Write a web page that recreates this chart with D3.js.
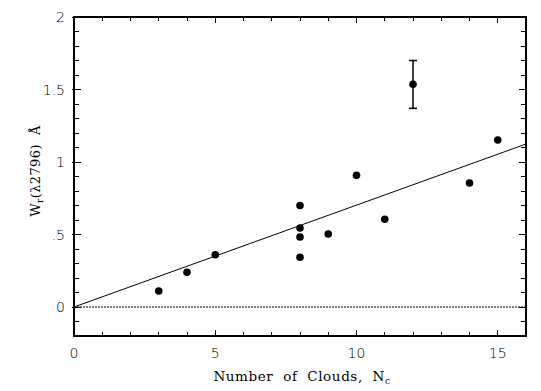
<!DOCTYPE html>
<html><head><meta charset="utf-8">
<script src="https://cdn.jsdelivr.net/npm/d3@7"></script>
<style>body{margin:0;background:#fff}svg{display:block}text{white-space:pre}</style>
</head><body>
<script>
const clouds = [3, 4, 5, 8, 8, 8, 8, 9, 10, 11, 12, 14, 15];
const ew = [0.11, 0.24, 0.36, 0.70, 0.545, 0.483, 0.343, 0.503, 0.908, 0.605, 1.536, 0.855, 1.152];
const errLow = [null, null, null, null, null, null, null, null, null, null, 1.37, null, null];
const errHigh = [null, null, null, null, null, null, null, null, null, null, 1.70, null, null];
const fitLine = [[0, 0], [16, 1.124]];
const zeroLine = [[0, 0], [16, 0]];
const xTicks = [0, 5, 10, 15];
const yTicks = [0, 0.5, 1, 1.5, 2];
const yTickLabels = ["0", ".5", "1", "1.5", "2"];

const W = 541, H = 391;
const L = 74, R = 526, T = 17, B = 336;
const svg = d3.select("body").append("svg").attr("width", W).attr("height", H);
const x = d3.scaleLinear().domain([0, 16]).range([L, R]);
const y = d3.scaleLinear().domain([-0.2, 2]).range([B, T]);

const g = svg.append("g").attr("stroke", "#000").attr("stroke-width", 1).attr("shape-rendering", "crispEdges");
g.append("rect").attr("x", L).attr("y", T).attr("width", R - L).attr("height", B - T).attr("fill", "none").attr("stroke-width", 1.5);

// x ticks
d3.range(0, 17, 1).forEach(v => {
  const major = v % 5 === 0;
  const len = major ? 6 : 4;
  g.append("line").attr("x1", x(v)).attr("x2", x(v)).attr("y1", B).attr("y2", B - len);
  g.append("line").attr("x1", x(v)).attr("x2", x(v)).attr("y1", T).attr("y2", T + len);
});
// y ticks
d3.range(-2, 21, 1).forEach(i => {
  const v = i / 10;
  const major = i % 5 === 0;
  const len = major ? 7 : 5;
  g.append("line").attr("x1", major ? L - 2 : L).attr("x2", L + len).attr("y1", y(v)).attr("y2", y(v));
  g.append("line").attr("x1", R).attr("x2", R - len).attr("y1", y(v)).attr("y2", y(v));
});

const tf = "'DejaVu Sans', 'Liberation Sans', sans-serif";
svg.selectAll(".xl").data(xTicks).enter().append("text")
  .attr("x", d => x(d)).attr("y", 358).attr("text-anchor", "middle")
  .attr("font-family", tf).attr("font-size", 14).attr("font-weight", 300).text(d => d);
svg.selectAll(".yl").data(yTicks).enter().append("text")
  .attr("x", 65).attr("y", d => y(d) + 5).attr("text-anchor", "end")
  .attr("font-family", tf).attr("font-size", 14).attr("font-weight", 300).text((d, i) => yTickLabels[i]);

const sf = "'DejaVu Serif', 'Liberation Serif', serif";
const xt = svg.append("text").attr("x", 302).attr("y", 381).attr("text-anchor", "middle")
  .attr("font-family", sf).attr("font-size", 13.5).attr("letter-spacing", 0.6);
xt.append("tspan").text("Number  of  Clouds,  N");
xt.append("tspan").attr("font-size", 9).attr("dy", 3).text("c");

const yt = svg.append("text").attr("transform", "translate(40,171) rotate(-90)").attr("text-anchor", "middle")
  .attr("font-family", sf).attr("font-size", 13).attr("letter-spacing", 0.4);
yt.append("tspan").text("W");
yt.append("tspan").attr("font-size", 9).attr("dy", 3).text("r");
yt.append("tspan").attr("dy", -3).text("(λ2796)  Å");

const line = d3.line().x(d => x(d[0])).y(d => y(d[1]));
svg.append("path").attr("d", line(fitLine)).attr("stroke", "#000").attr("fill", "none").attr("stroke-width", 1);
svg.append("path").attr("d", line(zeroLine)).attr("stroke", "#000").attr("fill", "none").attr("stroke-width", 1).attr("stroke-dasharray", "2,1");

// error bars
clouds.forEach((c, i) => {
  if (errLow[i] == null) return;
  svg.append("line").attr("x1", x(c)).attr("x2", x(c)).attr("y1", y(errLow[i])).attr("y2", y(errHigh[i])).attr("stroke", "#000").attr("stroke-width", 1.5);
  [errLow[i], errHigh[i]].forEach(v => svg.append("line").attr("x1", x(c) - 4).attr("x2", x(c) + 4).attr("y1", y(v)).attr("y2", y(v)).attr("stroke", "#000").attr("stroke-width", 1.5));
});
svg.selectAll(".pt").data(clouds).enter().append("circle")
  .attr("cx", d => x(d)).attr("cy", (d, i) => y(ew[i])).attr("r", 3.8).attr("fill", "#000");
</script>
</body></html>
